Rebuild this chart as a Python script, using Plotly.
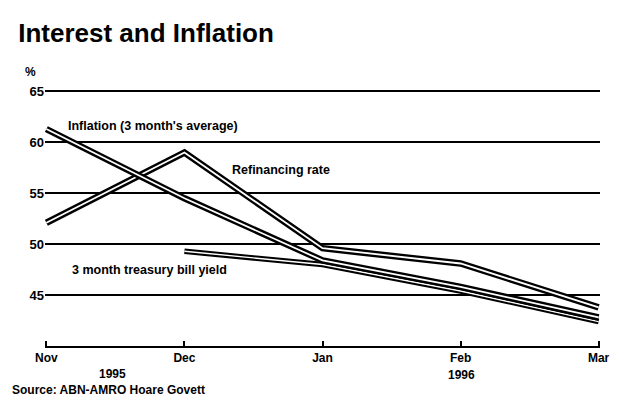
import plotly.graph_objects as go

# Month positions along the x axis and their labels
months = ["Nov", "Dec", "Jan", "Feb", "Mar"]
month_pos = [0, 1, 2, 3, 4]

# Series values (per cent, as printed on the axis)
inflation = [61.3, 54.5, 48.4, 45.8, 42.8]
refinancing = [52.1, 59.0, 49.6, 48.1, 43.8]
tbill_pos = [1, 2, 3, 4]
tbill = [49.3, 48.0, 45.4, 42.4]

y_ticks = [45, 50, 55, 60, 65]
y_tick_text = ["45", "50", "55", "60", "65"]

FONT = "Liberation Sans"

fig = go.Figure()


def double_line(x, y, outer=6.5, inner=1.8):
    # Black stroke with a thin white core, newspaper style
    fig.add_trace(go.Scatter(x=x, y=y, mode="lines",
                             line=dict(color="black", width=outer),
                             hoverinfo="skip", showlegend=False))
    fig.add_trace(go.Scatter(x=x, y=y, mode="lines",
                             line=dict(color="white", width=inner),
                             hoverinfo="skip", showlegend=False))


double_line(month_pos, refinancing)
double_line(tbill_pos, tbill, outer=5.5, inner=1.4)
double_line(month_pos, inflation)

label_font = dict(family=FONT, size=12.5, color="black")
fig.add_annotation(x=0.14, y=61.6, text="<b>Inflation (3 month's average)</b>",
                   showarrow=False, xanchor="left", yanchor="middle", font=label_font)
fig.add_annotation(x=1.33, y=57.3, text="<b>Refinancing rate</b>",
                   showarrow=False, xanchor="left", yanchor="middle", font=label_font)
fig.add_annotation(x=0.17, y=47.5, text="<b>3 month treasury bill yield</b>",
                   showarrow=False, xanchor="left", yanchor="middle", font=label_font)

# Unit marker, year labels and source line
fig.add_annotation(xref="paper", yref="paper", x=-0.027, y=0.995, text="<b>%</b>",
                   showarrow=False, xanchor="center", yanchor="middle",
                   font=dict(family=FONT, size=12, color="black"))
fig.add_annotation(xref="paper", yref="paper", x=0.1225, y=-0.102, text="<b>1995</b>",
                   showarrow=False, xanchor="center", yanchor="middle",
                   font=dict(family=FONT, size=12, color="black"))
fig.add_annotation(xref="paper", yref="paper", x=0.751, y=-0.105, text="<b>1996</b>",
                   showarrow=False, xanchor="center", yanchor="middle",
                   font=dict(family=FONT, size=12, color="black"))
fig.add_annotation(xref="paper", yref="paper", x=-0.063, y=-0.16,
                   text="<b>Source: ABN-AMRO Hoare Govett</b>",
                   showarrow=False, xanchor="left", yanchor="middle",
                   font=dict(family=FONT, size=12, color="black"))

fig.update_layout(
    width=628, height=404,
    margin=dict(l=45, r=28, t=71, b=58),
    paper_bgcolor="white", plot_bgcolor="white",
    title=dict(text="<b>Interest and Inflation</b>", x=0.029, xanchor="left",
               y=0.918, yanchor="middle",
               font=dict(family=FONT, size=26, color="black")),
    xaxis=dict(range=[-0.01, 4.01], tickvals=month_pos,
               ticktext=[f"<b>{m}</b>" for m in months],
               showgrid=False, zeroline=False,
               showline=True, linecolor="black", linewidth=2,
               ticks="inside", ticklen=5, tickwidth=1.5, tickcolor="black",
               tickfont=dict(family=FONT, size=12, color="black")),
    yaxis=dict(range=[40, 67], tickvals=y_ticks,
               ticktext=[f"<b>{t}</b>" for t in y_tick_text],
               showgrid=True, gridcolor="black", gridwidth=1.6,
               zeroline=False, showline=False, ticks="",
               tickfont=dict(family=FONT, size=13, color="black")),
)

fig.write_html("out.html")
